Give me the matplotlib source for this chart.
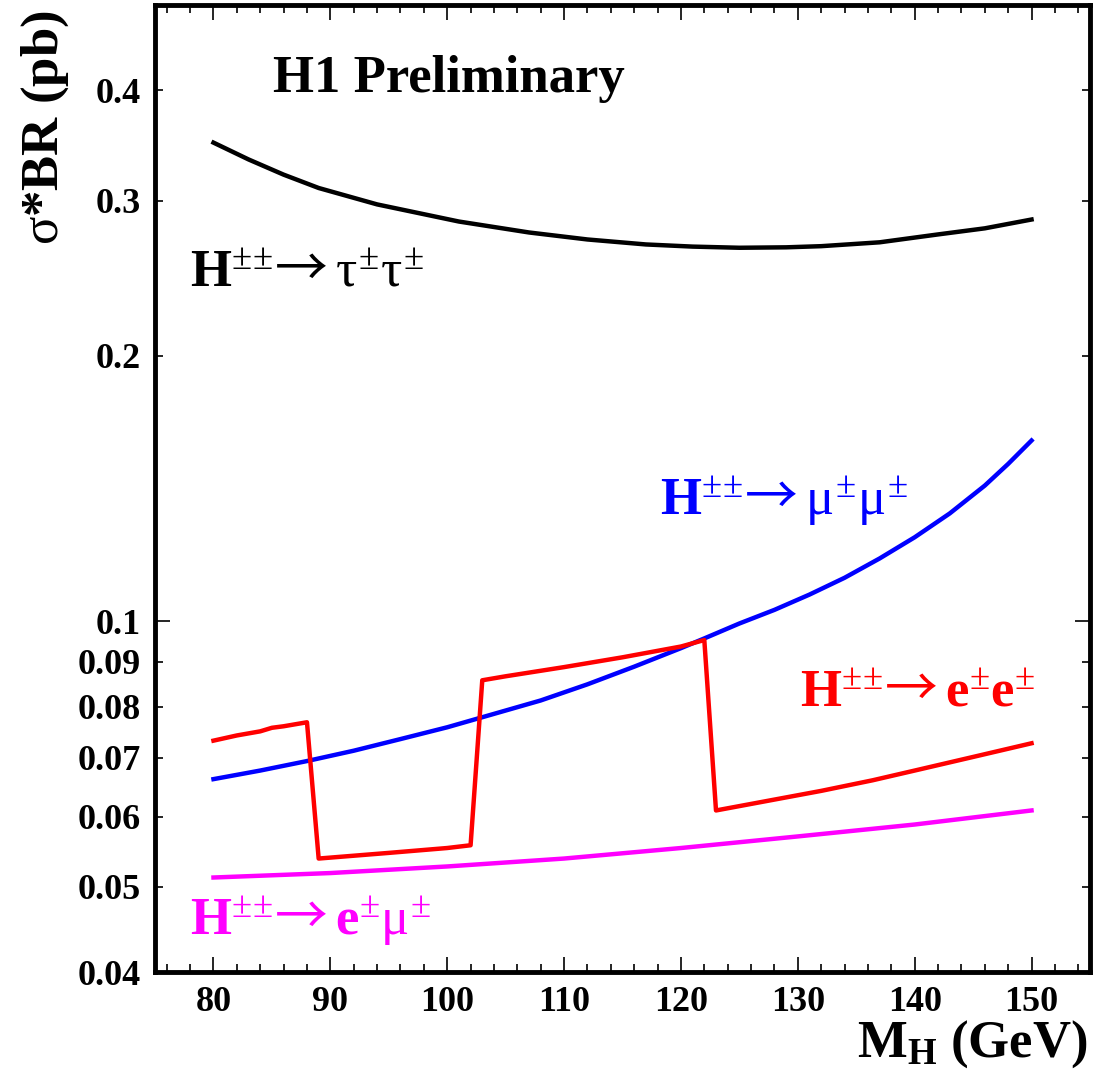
import matplotlib
matplotlib.use("Agg")
import matplotlib.pyplot as plt
from matplotlib.ticker import FixedLocator, FixedFormatter, NullFormatter

plt.rcParams['font.family'] = ['Liberation Serif', 'DejaVu Serif']
plt.rcParams['mathtext.fontset'] = 'custom'
plt.rcParams['mathtext.rm'] = 'Liberation Serif'
plt.rcParams['mathtext.it'] = 'Liberation Serif'
plt.rcParams['mathtext.bf'] = 'Liberation Serif:bold'
plt.rcParams['mathtext.sf'] = 'Noto Sans CJK JP'

# H -> tau tau
m_tau = [80, 83, 86, 89, 94, 101, 107, 112, 117, 121, 125, 129, 132, 137, 142, 146, 150]
xs_tau = [0.349, 0.334, 0.321, 0.310, 0.297, 0.284, 0.276, 0.271, 0.2675, 0.266, 0.2652,
          0.2655, 0.2663, 0.269, 0.2746, 0.279, 0.2855]

# H -> mu mu
m_mumu = [80, 84, 88, 92, 96, 100, 104, 108, 112, 116, 120, 122, 125, 128, 131, 134,
          137, 140, 143, 146, 148, 150]
xs_mumu = [0.0662, 0.0677, 0.0694, 0.0713, 0.0735, 0.0758, 0.0785, 0.0813, 0.0848,
           0.0888, 0.0932, 0.0956, 0.0994, 0.1030, 0.1072, 0.1120, 0.1178, 0.1245,
           0.1325, 0.1425, 0.1508, 0.1603]

# H -> e e (steps from the limit curve)
m_ee = [80, 82, 84, 85, 86, 88, 89, 95, 100, 102, 103, 105, 110, 115, 120, 122,
        123, 128.4, 132, 136.4, 140, 144.9, 150]
xs_ee = [0.0732, 0.0742, 0.0750, 0.0757, 0.0760, 0.0768, 0.0538, 0.0546, 0.0553, 0.0557,
         0.0857, 0.0866, 0.0887, 0.0910, 0.0936, 0.0952,
         0.0610, 0.0629, 0.0642, 0.0660, 0.0677, 0.0701, 0.0727]

# H -> e mu
m_emu = [80, 90, 100, 110, 120, 130, 140, 150]
xs_emu = [0.0512, 0.0518, 0.0527, 0.0538, 0.0553, 0.0570, 0.0588, 0.0610]

ytick_vals = [0.04, 0.05, 0.06, 0.07, 0.08, 0.09, 0.2, 0.3, 0.4, 0.5]
ytick_labels = ['0.04', '0.05', '0.06', '0.07', '0.08', '0.09', '0.2', '0.3', '0.4', '']

fig = plt.figure(figsize=(10.95, 10.78), dpi=100)
ax = fig.add_axes([0.1416, 0.0983, 0.8538, 0.8971])

lw = 3.2
ax.plot(m_tau, xs_tau, color='black', lw=lw)
ax.plot(m_mumu, xs_mumu, color='#0000ff', lw=lw)
ax.plot(m_ee, xs_ee, color='#ff0000', lw=lw)
ax.plot(m_emu, xs_emu, color='#ff00ff', lw=lw)

ax.set_yscale('log')
ax.set_xlim(75, 155)
ax.set_ylim(0.04, 0.5)

ax.xaxis.set_major_locator(FixedLocator(range(80, 151, 10)))
ax.xaxis.set_minor_locator(FixedLocator([v for v in range(76, 155, 2) if v % 10]))
ax.yaxis.set_major_locator(FixedLocator([0.1]))
ax.yaxis.set_major_formatter(FixedFormatter(['0.1']))
ax.yaxis.set_minor_locator(FixedLocator(ytick_vals))
ax.yaxis.set_minor_formatter(FixedFormatter(ytick_labels))
ax.xaxis.set_minor_formatter(NullFormatter())

ax.tick_params(which='both', direction='in', top=True, right=True, width=1.2,
               labelsize=26, pad=10)
ax.tick_params(which='major', length=11)
ax.tick_params(which='minor', length=6)
for lab in ax.get_xticklabels() + ax.get_yticklabels(minor=False) + ax.get_yticklabels(minor=True):
    lab.set_fontweight('bold')
for sp in ax.spines.values():
    sp.set_linewidth(3.5)

arrow = r'\!\!\mathsf{\rightarrow}'
ax.text(0.126, 0.910, 'H1 Preliminary', transform=ax.transAxes, fontsize=38,
        fontweight='bold', va='baseline')
ax.text(0.0374, 0.709, r'$\mathbf{H}^{\pm\!\pm}' + arrow + r'\tau^{\pm}\tau^{\pm}$',
        transform=ax.transAxes, fontsize=38, color='black', va='baseline')
ax.text(0.540, 0.4726, r'$\mathbf{H}^{\pm\!\pm}' + arrow + r'\mu^{\pm}\mu^{\pm}$',
        transform=ax.transAxes, fontsize=38, color='#0000ff', va='baseline')
ax.text(0.690, 0.275, r'$\mathbf{H}^{\pm\!\pm}' + arrow + r'\mathbf{e}^{\pm}\mathbf{e}^{\pm}$',
        transform=ax.transAxes, fontsize=38, color='#ff0000', va='baseline')
ax.text(0.0374, 0.0383, r'$\mathbf{H}^{\pm\!\pm}' + arrow + r'\mathbf{e}^{\pm}\mu^{\pm}$',
        transform=ax.transAxes, fontsize=38, color='#ff00ff', va='baseline')

fig.text(0.041, 1 - 128 / 1078, r'$\sigma$*BR (pb)', rotation=90, fontsize=38,
         fontweight='bold', ha='center', va='center')
fig.text(0.993, 1 - 1057 / 1078, r'$\mathbf{M}_{\mathbf{H}}$ (GeV)', fontsize=38,
         fontweight='bold', ha='right', va='baseline')

fig.savefig('out.png', dpi=100)
